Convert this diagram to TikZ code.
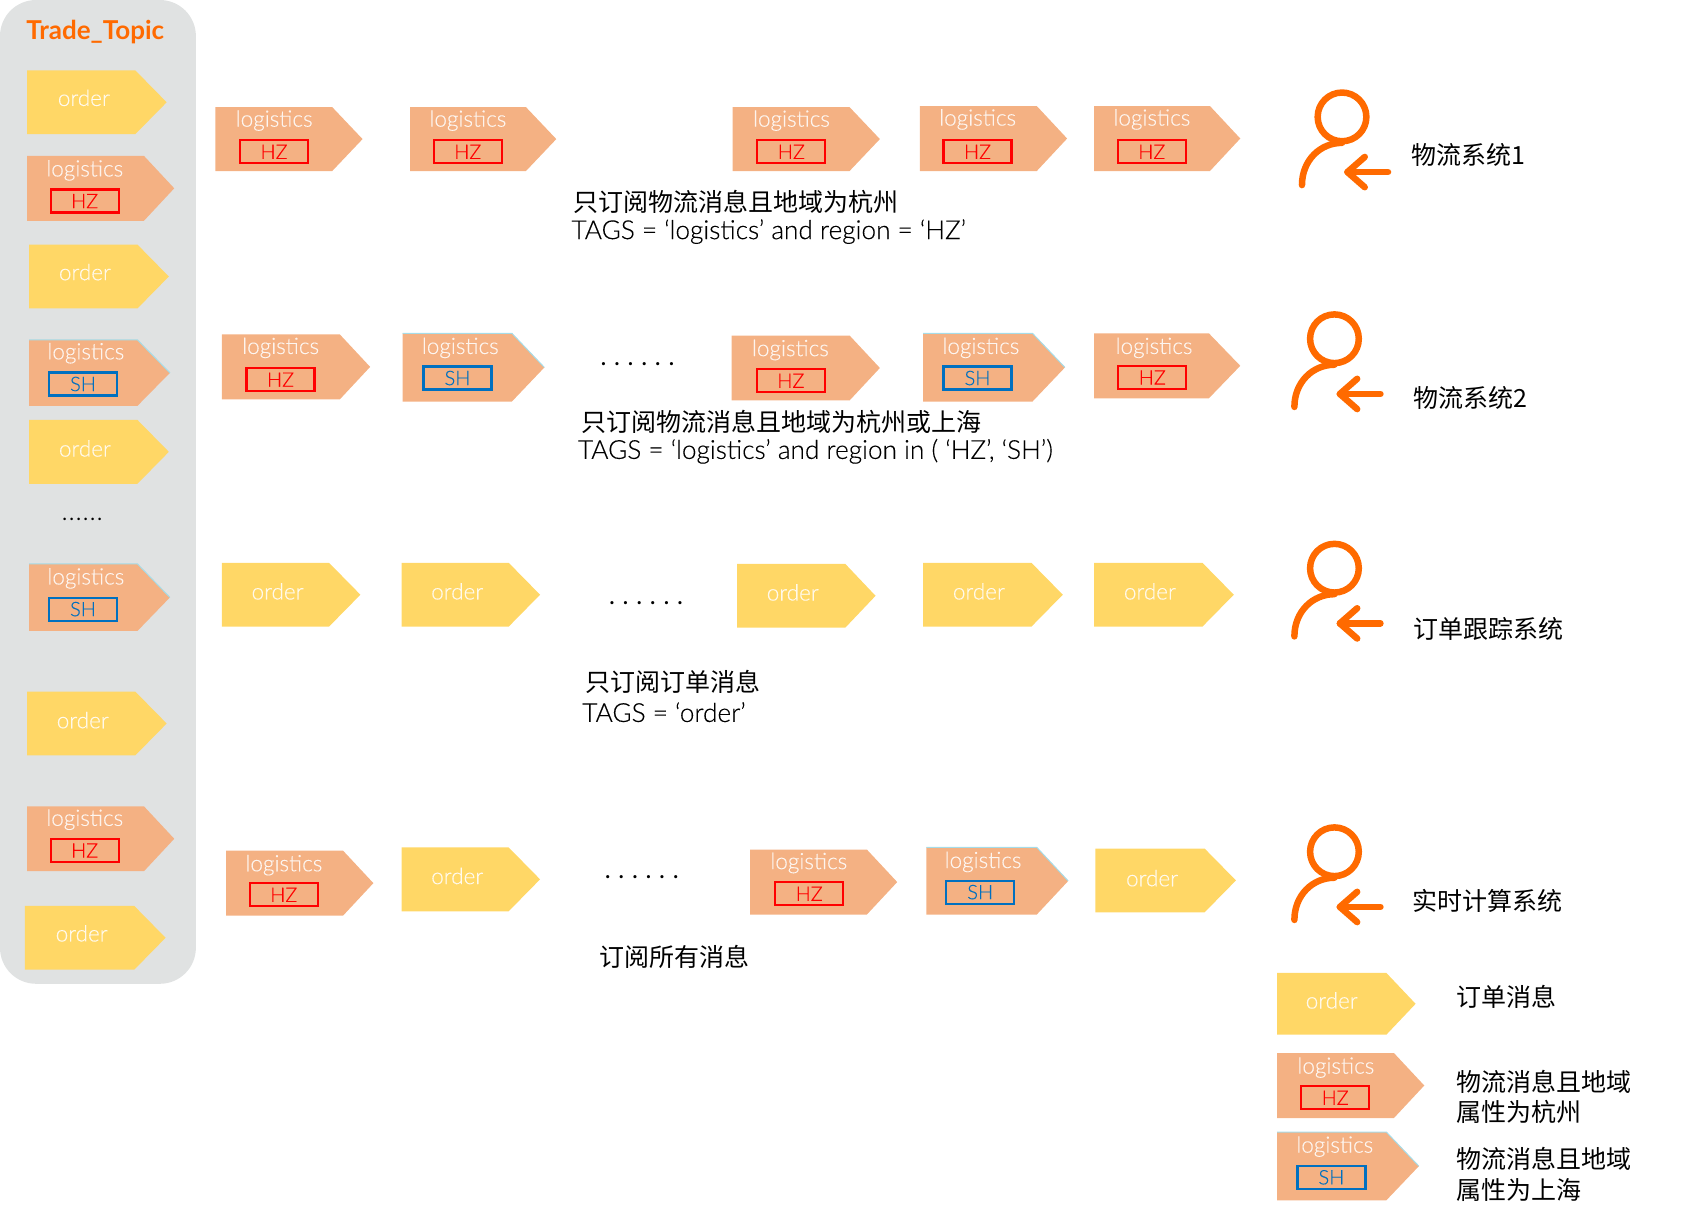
\documentclass[tikz,border=0pt]{standalone}
\usepackage{fontspec}
\setmainfont{Open Sans}
\newfontfamily\cjk{Noto Sans CJK SC}
\newfontfamily\lab{Lato}
\newfontfamily\labl[FakeBold=0.25]{Lato Light}
\definecolor{ordc}{HTML}{FFD766}
\definecolor{logc}{HTML}{F4B183}
\definecolor{panel}{HTML}{E0E2E2}
\definecolor{orng}{HTML}{FF6A00}
\definecolor{hzc}{HTML}{FF0000}
\definecolor{shc}{HTML}{0070C0}
\definecolor{edgec}{HTML}{A5DCE8}
\newcount\shapeno
\tikzset{
  every node/.style={inner sep=0pt,outer sep=0pt},
  taglabel/.style={text=white,text opacity=.85,font=\labl\fontsize{22.5}{26}\selectfont},
  regionbox/.style={draw,line width=2.2pt,minimum width=68pt,minimum height=23pt,font=\labl\fontsize{20}{22}\selectfont},
  txt/.style={anchor=west,text=black,font=\cjk\fontsize{25}{30}\selectfont},
  lat/.style={anchor=west,text=black,font=\labl\fontsize{26.2}{30}\selectfont},
  dotstxt/.style={text=black,font=\lab\fontsize{25}{30}\selectfont},
  icon/.style={draw=orng,line width=6.5pt,line cap=round,line join=round},
}
% args: left top bottom shoulder tip labelx labely
\newcommand\ordertag[7]{%
  \global\advance\shapeno by 1
  \fill[ordc] (#1,#2)--(#4,#2)--(#5,{(#2+#3)/2})--(#4,#3)--(#1,#3)--cycle;
  \node[taglabel] (tag\the\shapeno) at (#6+0.5,#7-0.6) {order};}
% args: left top bottom shoulder tip labelx labely boxx boxy
\newcommand\hztag[9]{%
  \global\advance\shapeno by 1
  \fill[logc] (#1,#2)--(#4,#2)--(#5,{(#2+#3)/2})--(#4,#3)--(#1,#3)--cycle;
  \node[taglabel] (tag\the\shapeno) at (#6+0.3,#7+0.4) {logistics};
  \node[regionbox,draw=hzc,text=hzc] (box\the\shapeno) at (#8+0.2,#9+0.3) {HZ};}
\newcommand\shtag[9]{%
  \global\advance\shapeno by 1
  \fill[logc] (#1,#2)--(#4,#2)--(#5,{(#2+#3)/2})--(#4,#3)--(#1,#3)--cycle;
  \draw[edgec,line width=1pt] (#1,#2)--(#4,#2)--(#5,{(#2+#3)/2});
  \node[taglabel] (tag\the\shapeno) at (#6+0.3,#7+0.4) {logistics};
  \node[regionbox,draw=shc,text=shc] (box\the\shapeno) at (#8+0.2,#9+0.3) {SH};}
\newcommand\usericon[2]{%
  \begin{scope}[shift={(#1,#2)}]
    \draw[icon] (0,0) circle [radius=22.5];
    \draw[icon] (0,24) .. controls (-20,24) and (-37,40) .. (-37,63);
    \draw[icon] (42.5,51)--(5,51);
    \draw[icon] (21,37)--(5,51)--(21,65);
  \end{scope}}
\newcommand\spaceddots{.\hskip 7.7pt.\hskip 7.7pt.\hskip 7.7pt.\hskip 7.7pt.\hskip 7.7pt.}
\begin{document}
\begin{tikzpicture}[x=1.0823pt,y=-1.0823pt]
\useasboundingbox (0,0) rectangle (1568,1128.2);
\fill[panel,rounded corners=36pt] (0,0) rectangle (181,909);
\node[font=\lab\bfseries\fontsize{26}{30}\selectfont,text=orng] (topic) at (88,30) {Trade\_Topic};
% column
\ordertag{25}{65}{124}{125}{154}{77}{91}
\hztag{25}{144}{204}{133}{161}{78}{157}{78}{185.5}
\ordertag{27}{226}{285}{127}{156}{78}{252}
\shtag{27}{314}{375}{127}{157}{79}{326}{76.5}{354.5}
\ordertag{27}{388}{447}{127}{156}{78}{415}
\node[dotstxt,font=\lab\fontsize{20}{24}\selectfont] (coldots) at (76,480) {.\hskip 2.3pt.\hskip 2.3pt.\hskip 2.3pt.\hskip 2.3pt.\hskip 2.3pt.};
\shtag{27}{521}{583}{127}{157}{79}{534}{76.5}{562.5}
\ordertag{25}{639}{698}{125}{154}{76}{666}
\hztag{25}{745}{805}{133}{161}{78}{757}{78}{785.5}
\ordertag{23}{837}{896}{124}{153}{75}{863}
% row 1
\hztag{199}{99}{158}{307}{335}{253}{111}{253}{140}
\hztag{379}{99}{158}{486}{514}{432}{111}{432}{140}
\hztag{677}{99}{158}{785}{813}{731}{111}{731}{140}
\hztag{850}{98}{158}{958}{986}{903}{110}{903}{140}
\hztag{1011}{98}{158}{1118}{1146}{1064}{110}{1064}{140}
\node[txt] (t1a) at (530,186.5) {只订阅物流消息且地域为杭州};
\node[lat] (t1b) at (528,214) {TAGS = ‘logistics’ and region = ‘HZ’};
% row 2
\hztag{205}{309}{369}{314}{342}{259}{321}{259}{350.5}
\shtag{372}{308}{371}{473}{503}{425}{321}{422.5}{349}
\node[dotstxt] (r2dots) at (589,336) {\spaceddots};
\hztag{676}{310}{370}{785}{813}{730}{323}{730.5}{351.5}
\shtag{853}{308}{371}{954}{984}{906}{321}{903}{349}
\hztag{1011}{308}{368}{1117}{1146}{1066}{321}{1064.5}{348.5}
\node[txt] (t2a) at (537,389.5) {只订阅物流消息且地域为杭州或上海};
\node[lat] (t2b) at (534,417) {TAGS = ‘logistics’ and region in ( ‘HZ’, ‘SH’)};
% row 3
\ordertag{205}{520}{579}{304}{333}{256}{547}
\ordertag{371}{520}{579}{470}{499}{422}{547}
\node[dotstxt] (r3dots) at (597,557) {\spaceddots};
\ordertag{681}{521}{580}{781}{809}{732}{548}
\ordertag{853}{520}{579}{953}{982}{904}{547}
\ordertag{1011}{520}{579}{1111}{1140}{1062}{547}
\node[txt] (t3a) at (541,630.5) {只订阅订单消息};
\node[lat] (t3b) at (538,658) {TAGS = ‘order’};
% row 4
\hztag{209}{786}{846}{317}{345}{262}{799}{262}{826.5}
\ordertag{371}{783}{842}{470}{499}{422}{810}
\node[dotstxt] (r4dots) at (593,810) {\spaceddots};
\hztag{693}{785}{845}{801}{829}{747}{797}{747.5}{825.5}
\shtag{856}{783}{845}{958}{987}{908}{796}{905.5}{824}
\ordertag{1012}{784}{843}{1113}{1142}{1064}{812}
\node[txt] (t4a) at (554,884.5) {订阅所有消息};
% consumers
\usericon{1240}{108}
\usericon{1233}{313}
\usericon{1233}{525}
\usericon{1233}{787}
\node[txt] (s1) at (1304,143) {物流系统1};
\node[txt] (s2) at (1306,368) {物流系统2};
\node[txt] (s3) at (1306,581) {订单跟踪系统};
\node[txt] (s4) at (1305,832) {实时计算系统};
% legend
\ordertag{1180}{899}{956}{1281}{1308}{1230}{925}
\hztag{1180}{973}{1033}{1288}{1316}{1234}{986}{1233.5}{1014}
\shtag{1180}{1046}{1109}{1281}{1311}{1233}{1059}{1230}{1087.5}
\node[txt] (l1) at (1346,921) {订单消息};
\node[txt] (l2a) at (1346,999.5) {物流消息且地域};
\node[txt] (l2b) at (1346,1027.5) {属性为杭州};
\node[txt] (l3a) at (1346,1071) {物流消息且地域};
\node[txt] (l3b) at (1346,1099.5) {属性为上海};
\end{tikzpicture}
\end{document}
